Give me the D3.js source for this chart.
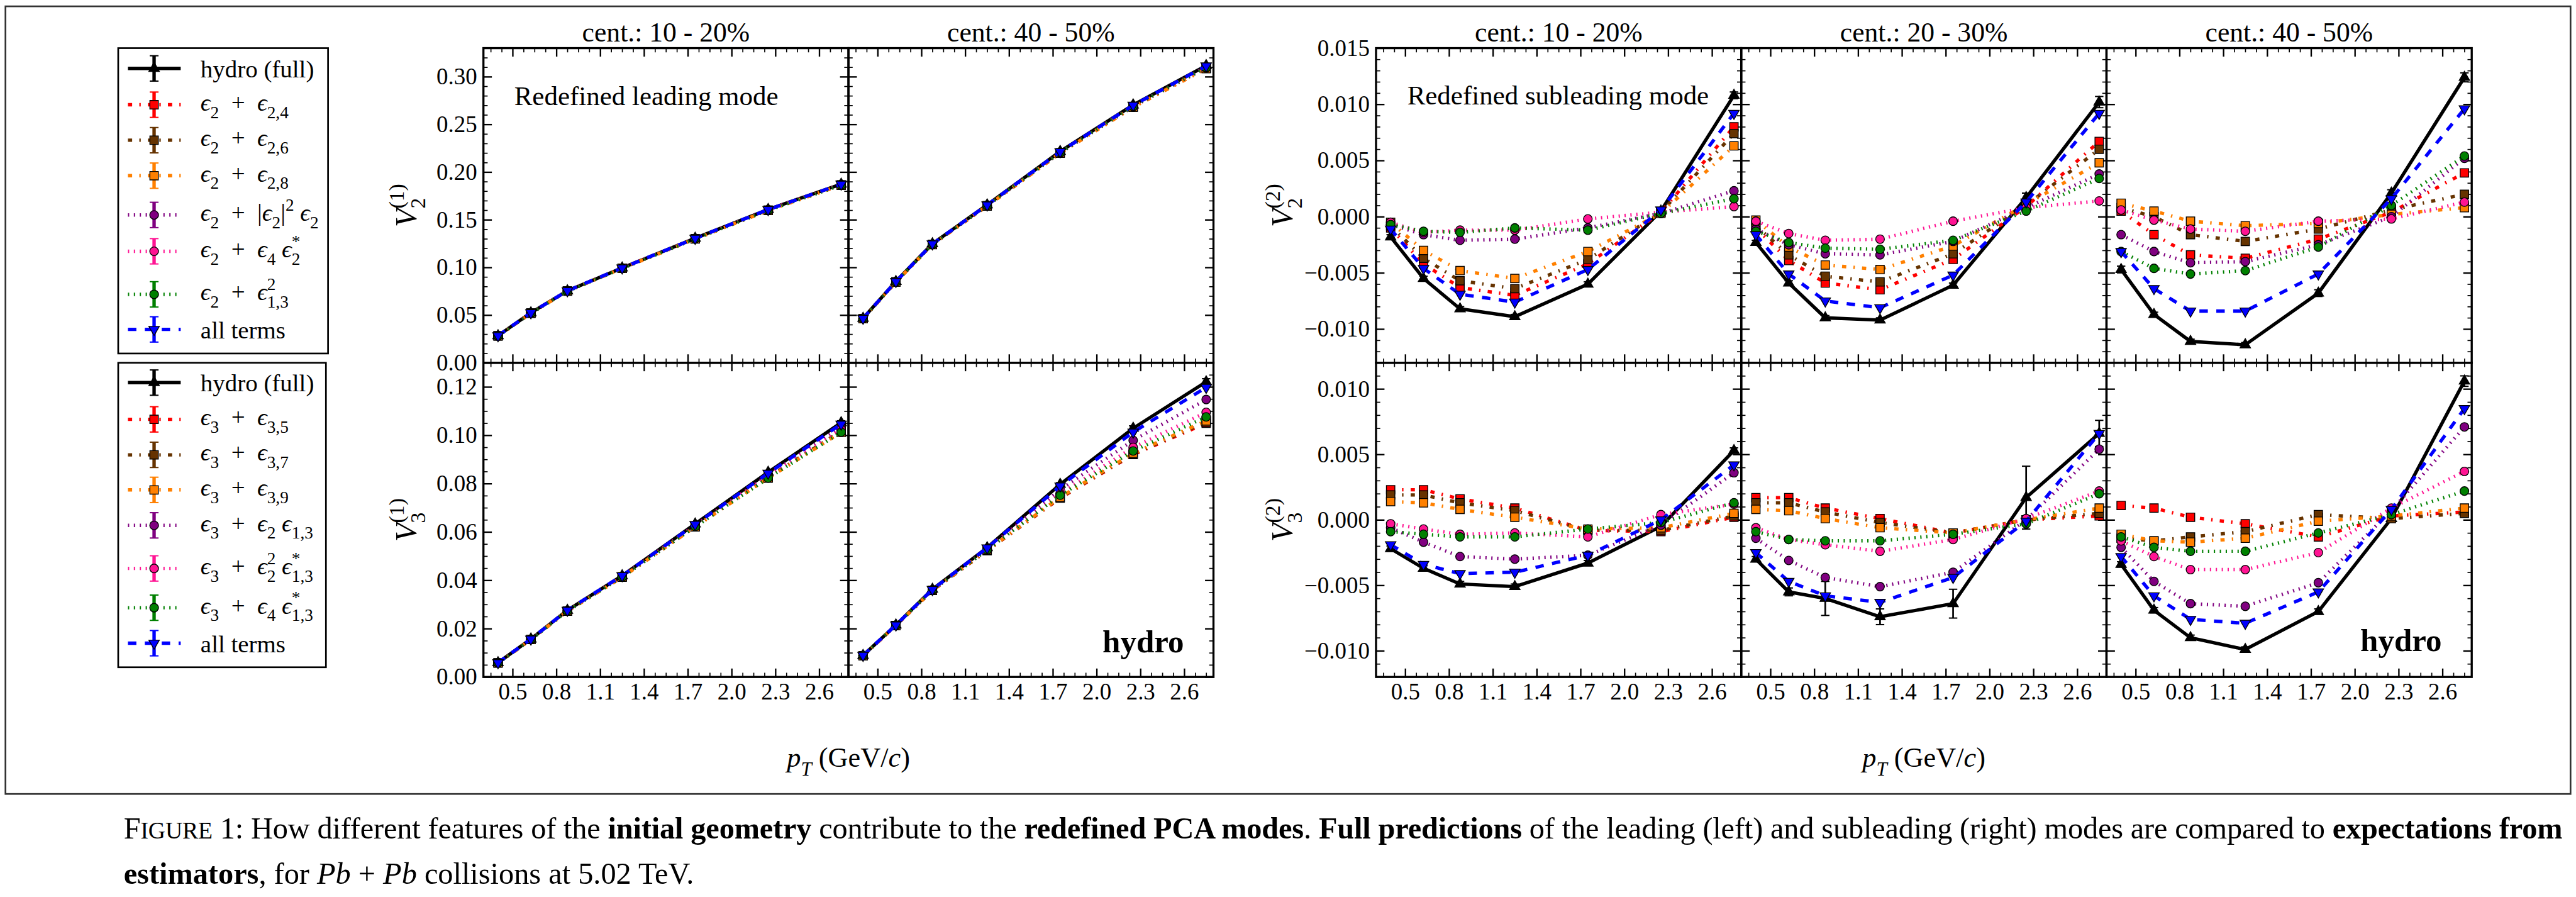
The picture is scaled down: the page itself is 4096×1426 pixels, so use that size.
<!DOCTYPE html>
<html>
<head>
<meta charset="utf-8">
<script src="https://cdn.jsdelivr.net/npm/d3@7"></script>
<style>
  body { margin: 0; background: #fff; }
  svg { display: block; }
  text { font-family: "Liberation Serif", "DejaVu Serif", serif; fill: #000; }
</style>
</head>
<body>
<svg id="fig"></svg>
<script>
// ---- data ----
var pT = [0.4, 0.625, 0.875, 1.25, 1.75, 2.25, 2.75];

// series order: hydro, e(2,4)/e(3,5), e(2,6)/e(3,7), e(2,8)/e(3,9), purple, pink, green, all terms
var v21_c1020 = [
  [0.0284, 0.0524, 0.0755, 0.0995, 0.1306, 0.1608, 0.1874],
  [0.0282, 0.0521, 0.0752, 0.0991, 0.1300, 0.1600, 0.1865],
  [0.0282, 0.0521, 0.0752, 0.0992, 0.1301, 0.1601, 0.1866],
  [0.0281, 0.0520, 0.0751, 0.0990, 0.1298, 0.1598, 0.1862],
  [0.0283, 0.0523, 0.0754, 0.0994, 0.1304, 0.1605, 0.1870],
  [0.0282, 0.0522, 0.0753, 0.0993, 0.1302, 0.1603, 0.1868],
  [0.0281, 0.0520, 0.0751, 0.0990, 0.1299, 0.1599, 0.1863],
  [0.0284, 0.0524, 0.0755, 0.0995, 0.1305, 0.1607, 0.1873]
];
var v21_c4050 = [
  [0.0466, 0.0853, 0.1248, 0.1656, 0.2216, 0.2704, 0.3117],
  [0.0463, 0.0848, 0.1241, 0.1646, 0.2200, 0.2683, 0.3088],
  [0.0464, 0.0849, 0.1242, 0.1647, 0.2202, 0.2686, 0.3092],
  [0.0463, 0.0847, 0.1240, 0.1644, 0.2198, 0.2680, 0.3085],
  [0.0465, 0.0851, 0.1245, 0.1652, 0.2209, 0.2695, 0.3104],
  [0.0464, 0.0849, 0.1242, 0.1648, 0.2203, 0.2687, 0.3093],
  [0.0464, 0.0850, 0.1243, 0.1649, 0.2205, 0.2690, 0.3097],
  [0.0466, 0.0852, 0.1247, 0.1655, 0.2214, 0.2701, 0.3113]
];
var v31_c1020 = [
  [0.0059, 0.0157, 0.0276, 0.0419, 0.0633, 0.0847, 0.1052],
  [0.0058, 0.0155, 0.0273, 0.0414, 0.0622, 0.0824, 0.1014],
  [0.0058, 0.0155, 0.0273, 0.0414, 0.0623, 0.0826, 0.1017],
  [0.0058, 0.0155, 0.0272, 0.0413, 0.0621, 0.0823, 0.1012],
  [0.0059, 0.0156, 0.0275, 0.0417, 0.0628, 0.0836, 0.1034],
  [0.0058, 0.0156, 0.0274, 0.0415, 0.0625, 0.0830, 0.1024],
  [0.0058, 0.0155, 0.0273, 0.0414, 0.0622, 0.0823, 0.1013],
  [0.0059, 0.0157, 0.0276, 0.0419, 0.0631, 0.0843, 0.1046]
];
var v31_c4050 = [
  [0.0089, 0.0215, 0.0363, 0.0535, 0.0797, 0.1029, 0.1221],
  [0.0088, 0.0213, 0.0358, 0.0523, 0.0740, 0.0920, 0.1050],
  [0.0088, 0.0213, 0.0358, 0.0524, 0.0742, 0.0923, 0.1055],
  [0.0088, 0.0213, 0.0359, 0.0525, 0.0744, 0.0926, 0.1060],
  [0.0089, 0.0214, 0.0361, 0.0531, 0.0775, 0.0979, 0.1148],
  [0.0088, 0.0213, 0.0359, 0.0527, 0.0758, 0.0950, 0.1095],
  [0.0089, 0.0214, 0.0360, 0.0526, 0.0752, 0.0935, 0.1076],
  [0.0089, 0.0215, 0.0362, 0.0534, 0.0790, 0.1013, 0.1198]
];
var v22_c1020 = [
  [-0.0018, -0.0055, -0.0082, -0.0089, -0.0060, 0.0005, 0.0108],
  [-0.0010, -0.0042, -0.0063, -0.0070, -0.0042, 0.0004, 0.0080],
  [-0.0008, -0.0037, -0.0057, -0.0064, -0.0038, 0.0004, 0.0074],
  [-0.0005, -0.0030, -0.0048, -0.0055, -0.0031, 0.0003, 0.0063],
  [-0.0007, -0.0016, -0.0021, -0.0020, -0.0010, 0.0003, 0.0023],
  [-0.0005, -0.0014, -0.0012, -0.0012, -0.0002, 0.0004, 0.0009],
  [-0.0007, -0.0013, -0.0014, -0.0010, -0.0012, 0.0003, 0.0016],
  [-0.0011, -0.0046, -0.0069, -0.0076, -0.0047, 0.0006, 0.0092]
];
var v22_c2030 = [
  [-0.0023, -0.0059, -0.0090, -0.0092, -0.0061, 0.0017, 0.0102],
  [-0.0010, -0.0039, -0.0059, -0.0065, -0.0038, 0.0009, 0.0067],
  [-0.0008, -0.0034, -0.0053, -0.0058, -0.0033, 0.0010, 0.0060],
  [-0.0003, -0.0027, -0.0043, -0.0047, -0.0026, 0.0011, 0.0048],
  [-0.0011, -0.0025, -0.0033, -0.0034, -0.0022, 0.0008, 0.0038],
  [-0.0004, -0.0015, -0.0021, -0.0020, -0.0004, 0.0008, 0.0014],
  [-0.0013, -0.0023, -0.0028, -0.0029, -0.0021, 0.0005, 0.0034],
  [-0.0016, -0.0051, -0.0075, -0.0081, -0.0052, 0.0013, 0.0092]
];
var v22_c4050 = [
  [-0.0047, -0.0087, -0.0111, -0.0114, -0.0068, 0.0021, 0.0124],
  [0.0005, -0.0016, -0.0034, -0.0037, -0.0020, 0.0004, 0.0039],
  [0.0008, 0.0000, -0.0016, -0.0022, -0.0011, 0.0006, 0.0020],
  [0.0012, 0.0005, -0.0004, -0.0008, -0.0006, 0.0002, 0.0008],
  [-0.0016, -0.0031, -0.0041, -0.0040, -0.0025, 0.0000, 0.0052],
  [0.0006, -0.0003, -0.0011, -0.0013, -0.0004, -0.0002, 0.0013],
  [-0.0031, -0.0046, -0.0051, -0.0048, -0.0027, 0.0010, 0.0054],
  [-0.0031, -0.0064, -0.0084, -0.0084, -0.0051, 0.0016, 0.0096]
];
var v32_c1020 = [
  [-0.0022, -0.0037, -0.0049, -0.0051, -0.0033, -0.0005, 0.0053],
  [0.0023, 0.0023, 0.0016, 0.0009, -0.0008, -0.0009, 0.0002],
  [0.0019, 0.0019, 0.0013, 0.0007, -0.0008, -0.0008, 0.0003],
  [0.0014, 0.0013, 0.0008, 0.0002, -0.0007, -0.0006, 0.0005],
  [-0.0006, -0.0017, -0.0028, -0.0030, -0.0027, -0.0004, 0.0036],
  [-0.0003, -0.0007, -0.0011, -0.0010, -0.0013, 0.0004, 0.0012],
  [-0.0009, -0.0011, -0.0013, -0.0013, -0.0007, -0.0002, 0.0013],
  [-0.0019, -0.0034, -0.0041, -0.0040, -0.0027, 0.0000, 0.0042]
];
var v32_c2030 = [
  [-0.0030, -0.0055, -0.0060, -0.0074, -0.0064, 0.0017, 0.0066],
  [0.0017, 0.0017, 0.0009, 0.0001, -0.0010, 0.0000, 0.0003],
  [0.0013, 0.0013, 0.0006, -0.0002, -0.0010, 0.0000, 0.0005],
  [0.0008, 0.0007, 0.0001, -0.0006, -0.0010, 0.0000, 0.0009],
  [-0.0014, -0.0031, -0.0044, -0.0051, -0.0040, 0.0000, 0.0054],
  [-0.0006, -0.0015, -0.0019, -0.0024, -0.0015, 0.0001, 0.0022],
  [-0.0009, -0.0015, -0.0016, -0.0016, -0.0011, -0.0003, 0.0020],
  [-0.0025, -0.0047, -0.0058, -0.0063, -0.0044, -0.0001, 0.0066]
];
var v32_c4050 = [
  [-0.0034, -0.0069, -0.0090, -0.0099, -0.0070, 0.0001, 0.0106],
  [0.0011, 0.0009, 0.0002, -0.0003, -0.0013, 0.0003, 0.0006],
  [-0.0014, -0.0016, -0.0013, -0.0009, 0.0004, 0.0001, 0.0005],
  [-0.0011, -0.0016, -0.0017, -0.0014, -0.0001, 0.0003, 0.0009],
  [-0.0021, -0.0047, -0.0064, -0.0066, -0.0048, 0.0007, 0.0071],
  [-0.0016, -0.0028, -0.0038, -0.0038, -0.0025, 0.0009, 0.0037],
  [-0.0013, -0.0021, -0.0024, -0.0024, -0.0010, 0.0004, 0.0022],
  [-0.0028, -0.0058, -0.0076, -0.0079, -0.0055, 0.0008, 0.0085]
];

// statistical errors on the hydro (full) curve
var err_v21_c1020 = [0.0003, 0.0003, 0.0003, 0.0003, 0.0004, 0.0005, 0.0006];
var err_v21_c4050 = [0.0004, 0.0004, 0.0005, 0.0005, 0.0006, 0.0008, 0.0012];
var err_v31_c1020 = [0.0002, 0.0002, 0.0003, 0.0003, 0.0004, 0.0006, 0.0008];
var err_v31_c4050 = [0.0002, 0.0003, 0.0004, 0.0005, 0.0007, 0.0010, 0.0013];
var err_v22_c1020 = [0.0002, 0.0002, 0.0002, 0.0002, 0.0002, 0.0002, 0.0003];
var err_v22_c2030 = [0.0002, 0.0002, 0.0002, 0.0002, 0.0002, 0.0004, 0.0005];
var err_v22_c4050 = [0.0003, 0.0002, 0.0002, 0.0002, 0.0003, 0.0003, 0.0004];
var err_v32_c1020 = [0.0002, 0.0002, 0.0002, 0.0002, 0.0002, 0.0002, 0.0002];
var err_v32_c2030 = [0.0002, 0.0003, 0.0013, 0.0006, 0.0011, 0.0024, 0.0010];
var err_v32_c4050 = [0.0002, 0.0002, 0.0002, 0.0002, 0.0002, 0.0002, 0.0004];

var xTicks = [0.5, 0.8, 1.1, 1.4, 1.7, 2.0, 2.3, 2.6];
var yTicks_v21 = [0.00, 0.05, 0.10, 0.15, 0.20, 0.25, 0.30];
var yTicks_v31 = [0.00, 0.02, 0.04, 0.06, 0.08, 0.10, 0.12];
var yTicks_v22 = [-0.010, -0.005, 0.000, 0.005, 0.010, 0.015];
var yTicks_v32 = [-0.010, -0.005, 0.000, 0.005, 0.010];

var centLeading = ["cent.: 10 - 20%", "cent.: 40 - 50%"];
var centSubleading = ["cent.: 10 - 20%", "cent.: 20 - 30%", "cent.: 40 - 50%"];

// ` toggles italic, _{..} subscript, ^{..} superscript
var legendLeading = [
  "hydro (full)",
  "`ϵ`_{2}\u2002+\u2002`ϵ`_{2,4}",
  "`ϵ`_{2}\u2002+\u2002`ϵ`_{2,6}",
  "`ϵ`_{2}\u2002+\u2002`ϵ`_{2,8}",
  "`ϵ`_{2}\u2002+\u2002|`ϵ`_{2}|^{2} `ϵ`_{2}",
  "`ϵ`_{2}\u2002+\u2002`ϵ`_{4} `ϵ`_{2}^{*}",
  "`ϵ`_{2}\u2002+\u2002`ϵ`_{1,3}^{2}",
  "all terms"
];
var legendSubleading = [
  "hydro (full)",
  "`ϵ`_{3}\u2002+\u2002`ϵ`_{3,5}",
  "`ϵ`_{3}\u2002+\u2002`ϵ`_{3,7}",
  "`ϵ`_{3}\u2002+\u2002`ϵ`_{3,9}",
  "`ϵ`_{3}\u2002+\u2002`ϵ`_{2} `ϵ`_{1,3}",
  "`ϵ`_{3}\u2002+\u2002`ϵ`_{2}^{2} `ϵ`_{1,3}^{*}",
  "`ϵ`_{3}\u2002+\u2002`ϵ`_{4} `ϵ`_{1,3}^{*}",
  "all terms"
];

// ---- styles ----
var DOT = "3,11", DASHDOT = "10,17,3.4,17", DASH = "20,20";
var series = [
  { color: "#000000", marker: "up",     dash: null },
  { color: "#ff0000", marker: "square", dash: DASHDOT },
  { color: "#663300", marker: "square", dash: DASHDOT },
  { color: "#ff8000", marker: "square", dash: DASHDOT },
  { color: "#800080", marker: "circle", dash: DOT },
  { color: "#ff1493", marker: "circle", dash: DOT },
  { color: "#008000", marker: "circle", dash: DOT },
  { color: "#0000ff", marker: "down",   dash: DASH }
];

var W = 6099, H = 2124;
var svg = d3.select("#fig")
  .attr("width", 4096).attr("height", 1426)
  .attr("viewBox", `0 0 ${W} ${H}`);

var yTop = 114, yMid = 859, yBot = 1603;
var LX = 1144, LW = 864.5, RX = 3258, RW = 865;
var TICK_FS = 55;

function symbolPath(kind) {
  if (kind === "square") return d3.symbol().type(d3.symbolSquare).size(400)();
  if (kind === "circle") return d3.symbol().type(d3.symbolCircle).size(330)();
  return d3.symbol().type(d3.symbolTriangle).size(270)();
}

function parseRich(str) {
  var out = [], it = false, buf = "";
  function flush() { if (buf) { out.push({ t: buf, it: it, pos: "base" }); buf = ""; } }
  for (var i = 0; i < str.length; i++) {
    var c = str[i];
    if (c === "`") { flush(); it = !it; }
    else if ((c === "_" || c === "^") && str[i + 1] === "{") {
      flush();
      var j = str.indexOf("}", i);
      var inner = str.slice(i + 2, j), iit = it, ib = "";
      var pos = c === "_" ? "sub" : "sup";
      for (var k = 0; k < inner.length; k++) {
        if (inner[k] === "`") { if (ib) out.push({ t: ib, it: iit, pos: pos }); ib = ""; iit = !iit; }
        else ib += inner[k];
      }
      if (ib) out.push({ t: ib, it: iit, pos: pos });
      i = j;
    } else buf += c;
  }
  flush();
  return out;
}

function richText(sel, str, fs) {
  var segs = parseRich(str);
  var offs = { base: 0, sub: 0.3 * fs, sup: -0.42 * fs };
  var cur = 0, prev = "base", subLen = 0, supLen = 0, pending = 0;
  segs.forEach(function(s) {
    var ts = sel.append("tspan").text(s.t)
      .attr("font-size", s.pos === "base" ? fs : fs * 0.7)
      .attr("font-style", s.it ? "italic" : "normal");
    ts.attr("dy", offs[s.pos] - cur);
    cur = offs[s.pos];
    var dx = 0;
    if (s.pos === "sup" && prev === "sub") { dx = -subLen; supLen = 0; }
    if (s.pos === "base" && pending > 0) { dx = pending; }
    if (dx) ts.attr("dx", dx);
    var len = ts.node().getComputedTextLength();
    if (s.pos === "sub") { if (prev !== "sub") subLen = 0; subLen += len; pending = 0; }
    if (s.pos === "sup") { supLen += len; pending = prev === "sub" || pending ? Math.max(0, subLen - supLen) : 0; }
    if (s.pos === "base") pending = 0;
    prev = s.pos;
  });
  return sel;
}

function styleAxis(g, width) {
  g.select(".domain").remove();
  g.selectAll(".tick line").attr("stroke", "#000").attr("stroke-width", width);
  g.attr("font-family", "Liberation Serif, DejaVu Serif, serif").attr("font-size", TICK_FS);
}

function minorsFor(ticks, step, lo, hi) {
  var out = [];
  for (var k = -10; k < 200; k++) {
    var v = ticks[0] + k * step;
    if (v > lo + 1e-9 && v < hi - 1e-9 && !ticks.some(function(t) { return Math.abs(t - v) < 1e-9; })) out.push(v);
  }
  return out;
}

function drawPanel(p) {
  var g = svg.append("g").attr("transform", `translate(${p.x},${p.y})`);
  var x = d3.scaleLinear().domain([0.3, 2.8]).range([0, p.w]);
  var y = d3.scaleLinear().domain(p.ydom).range([p.h, 0]);
  var xMinor = minorsFor(xTicks, 0.075, 0.3, 2.8);
  var yMinor = minorsFor(p.yticks, p.yminor, p.ydom[0], p.ydom[1]);

  // ticks (inward, all four sides)
  var specs = [
    [d3.axisBottom(x).tickValues(xTicks), `translate(0,${p.h})`, 20, 3.5, p.xlabels ? d3.format(".1f") : ""],
    [d3.axisBottom(x).tickValues(xMinor), `translate(0,${p.h})`, 10, 2.5, ""],
    [d3.axisTop(x).tickValues(xTicks), null, 20, 3.5, ""],
    [d3.axisTop(x).tickValues(xMinor), null, 10, 2.5, ""],
    [d3.axisLeft(y).tickValues(p.yticks), null, 20, 3.5, p.ylabels ? d3.format(p.yfmt) : ""],
    [d3.axisLeft(y).tickValues(yMinor), null, 10, 2.5, ""],
    [d3.axisRight(y).tickValues(p.yticks), `translate(${p.w},0)`, 20, 3.5, ""],
    [d3.axisRight(y).tickValues(yMinor), `translate(${p.w},0)`, 10, 2.5, ""]
  ];
  specs.forEach(function(s) {
    var ax = s[0].tickSize(-s[2]).tickPadding(15).tickFormat(s[4]);
    var ag = g.append("g").call(ax);
    if (s[1]) ag.attr("transform", s[1]);
    styleAxis(ag, s[3]);
  });

  var line = d3.line().x(function(d, i) { return x(pT[i]); }).y(function(d) { return y(d); });
  p.data.forEach(function(vals, si) {
    var st = series[si];
    g.append("path").attr("d", line(vals))
      .attr("fill", "none").attr("stroke", st.color).attr("stroke-width", 8)
      .attr("stroke-dasharray", st.dash);
    if (si === 0) {
      var eb = g.append("g").attr("stroke", st.color);
      p.err.forEach(function(e, i) {
        var cx = x(pT[i]);
        eb.append("line").attr("x1", cx).attr("x2", cx).attr("y1", y(vals[i] - e)).attr("y2", y(vals[i] + e)).attr("stroke-width", 4);
        [vals[i] - e, vals[i] + e].forEach(function(v) {
          eb.append("line").attr("x1", cx - 10).attr("x2", cx + 10).attr("y1", y(v)).attr("y2", y(v)).attr("stroke-width", 3);
        });
      });
    }
    g.append("g").selectAll("path").data(vals).join("path")
      .attr("d", symbolPath(st.marker))
      .attr("transform", function(d, i) { return `translate(${x(pT[i])},${y(d)})` + (st.marker === "down" ? " rotate(180)" : ""); })
      .attr("fill", st.color).attr("stroke", "#000").attr("stroke-width", 2);
  });

  g.append("rect").attr("width", p.w).attr("height", p.h)
    .attr("fill", "none").attr("stroke", "#000").attr("stroke-width", 5);

  if (p.title) {
    g.append("text").attr("x", p.w / 2).attr("y", 99 - p.y).attr("text-anchor", "middle")
      .attr("font-size", 65).text(p.title);
  }
  return g;
}

var panels = [
  { x: LX, y: yTop, w: LW, h: yMid - yTop, ydom: [0, 0.33], yticks: yTicks_v21, yminor: 0.01, yfmt: ".2f", data: v21_c1020, err: err_v21_c1020, title: centLeading[0], ylabels: true },
  { x: LX + LW, y: yTop, w: LW, h: yMid - yTop, ydom: [0, 0.33], yticks: yTicks_v21, yminor: 0.01, yfmt: ".2f", data: v21_c4050, err: err_v21_c4050, title: centLeading[1] },
  { x: LX, y: yMid, w: LW, h: yBot - yMid, ydom: [0, 0.13], yticks: yTicks_v31, yminor: 0.005, yfmt: ".2f", data: v31_c1020, err: err_v31_c1020, ylabels: true, xlabels: true },
  { x: LX + LW, y: yMid, w: LW, h: yBot - yMid, ydom: [0, 0.13], yticks: yTicks_v31, yminor: 0.005, yfmt: ".2f", data: v31_c4050, err: err_v31_c4050, xlabels: true },
  { x: RX, y: yTop, w: RW, h: yMid - yTop, ydom: [-0.013, 0.015], yticks: yTicks_v22, yminor: 0.001, yfmt: ".3f", data: v22_c1020, err: err_v22_c1020, title: centSubleading[0], ylabels: true },
  { x: RX + RW, y: yTop, w: RW, h: yMid - yTop, ydom: [-0.013, 0.015], yticks: yTicks_v22, yminor: 0.001, yfmt: ".3f", data: v22_c2030, err: err_v22_c2030, title: centSubleading[1] },
  { x: RX + 2 * RW, y: yTop, w: RW, h: yMid - yTop, ydom: [-0.013, 0.015], yticks: yTicks_v22, yminor: 0.001, yfmt: ".3f", data: v22_c4050, err: err_v22_c4050, title: centSubleading[2] },
  { x: RX, y: yMid, w: RW, h: yBot - yMid, ydom: [-0.012, 0.012], yticks: yTicks_v32, yminor: 0.001, yfmt: ".3f", data: v32_c1020, err: err_v32_c1020, ylabels: true, xlabels: true },
  { x: RX + RW, y: yMid, w: RW, h: yBot - yMid, ydom: [-0.012, 0.012], yticks: yTicks_v32, yminor: 0.001, yfmt: ".3f", data: v32_c2030, err: err_v32_c2030, xlabels: true },
  { x: RX + 2 * RW, y: yMid, w: RW, h: yBot - yMid, ydom: [-0.012, 0.012], yticks: yTicks_v32, yminor: 0.001, yfmt: ".3f", data: v32_c4050, err: err_v32_c4050, xlabels: true }
];
panels.forEach(drawPanel);

// annotations
svg.append("text").attr("x", 1217).attr("y", 249).attr("font-size", 64).text("Redefined leading mode");
svg.append("text").attr("x", 3332).attr("y", 247).attr("font-size", 64).text("Redefined subleading mode");
svg.append("text").attr("x", 2803).attr("y", 1545).attr("text-anchor", "end").attr("font-size", 76).attr("font-weight", "bold").text("hydro");
svg.append("text").attr("x", 5782).attr("y", 1541).attr("text-anchor", "end").attr("font-size", 76).attr("font-weight", "bold").text("hydro");

// axis labels
function yLabel(cx, cy, str) {
  var t = svg.append("text").attr("text-anchor", "middle")
    .attr("transform", `translate(${cx},${cy}) rotate(-90)`);
  richText(t, str, 72);
}
yLabel(985, (yTop + yMid) / 2, "`V`_{2}^{(1)}");
yLabel(985, (yMid + yBot) / 2, "`V`_{3}^{(1)}");
yLabel(3060, (yTop + yMid) / 2, "`V`_{2}^{(2)}");
yLabel(3060, (yMid + yBot) / 2, "`V`_{3}^{(2)}");

function xLabel(cx) {
  var t = svg.append("text").attr("x", cx).attr("y", 1816).attr("text-anchor", "middle");
  richText(t, "`p`_{`T`} (GeV/`c`)", 66);
}
xLabel(LX + LW);
xLabel(RX + 1.5 * RW);

// legends
function drawLegend(x0, y0, x1, y1, labels, rows) {
  var g = svg.append("g");
  g.append("rect").attr("x", x0).attr("y", y0).attr("width", x1 - x0).attr("height", y1 - y0)
    .attr("fill", "#fff").attr("stroke", "#000").attr("stroke-width", 4);
  labels.forEach(function(lab, i) {
    var st = series[i], cy = rows[i], mx = 364;
    g.append("line").attr("x1", 302).attr("x2", 427).attr("y1", cy).attr("y2", cy)
      .attr("stroke", st.color).attr("stroke-width", 8).attr("stroke-dasharray", st.dash);
    g.append("line").attr("x1", mx).attr("x2", mx).attr("y1", cy - 30).attr("y2", cy + 30)
      .attr("stroke", st.color).attr("stroke-width", 8);
    [cy - 30, cy + 30].forEach(function(v) {
      g.append("line").attr("x1", mx - 10.5).attr("x2", mx + 10.5).attr("y1", v).attr("y2", v)
        .attr("stroke", st.color).attr("stroke-width", 3);
    });
    g.append("path").attr("d", symbolPath(st.marker))
      .attr("transform", `translate(${mx},${cy})` + (st.marker === "down" ? " rotate(180)" : ""))
      .attr("fill", st.color).attr("stroke", "#000").attr("stroke-width", 2);
    var isMath = lab.indexOf("`") >= 0;
    var t = g.append("text").attr("x", 474).attr("y", cy + (isMath ? 14 : 21)).style("white-space", "pre");
    richText(t, lab, 58);
  });
}
drawLegend(279, 114, 776, 837, legendLeading, [162, 248, 332, 416, 509, 595, 697, 780]);
drawLegend(279, 859, 771, 1580, legendSubleading, [906, 993, 1077, 1160, 1244, 1346, 1439, 1523]);

// frame
svg.append("rect").attr("x", 12).attr("y", 15).attr("width", 6075).attr("height", 1865)
  .attr("fill", "none").attr("stroke", "#333").attr("stroke-width", 4);

// caption
var CAP_FS = 72;
var capLine1 = [
  ["F", ""], ["IGURE", "sc"], [" 1: How different features of the ", ""], ["initial geometry", "b"],
  [" contribute to the ", ""], ["redefined PCA modes", "b"], [". ", ""], ["Full predictions", "b"],
  [" of the leading (left) and subleading (right) modes are compared to ", ""], ["expectations from", "b"]
];
var capLine2 = [
  ["estimators", "b"], [", for ", ""], ["Pb", "i"], [" + ", ""], ["Pb", "i"], [" collisions at 5.02 TeV.", ""]
];
function caption(parts, y, fit) {
  var t = svg.append("text").attr("x", 292).attr("y", y).attr("font-size", CAP_FS).style("white-space", "pre");
  parts.forEach(function(p) {
    var ts = t.append("tspan").text(p[0]);
    if (p[1] === "b") ts.attr("font-weight", "bold");
    if (p[1] === "i") ts.attr("font-style", "italic");
    if (p[1] === "sc") ts.attr("font-size", CAP_FS * 0.78);
  });
  if (fit) t.attr("textLength", fit).attr("lengthAdjust", "spacing");
}
caption(capLine1, 1985, 6068 - 292);
caption(capLine2, 2093);
</script>
</body>
</html>
